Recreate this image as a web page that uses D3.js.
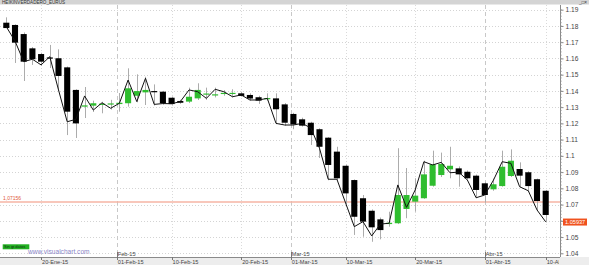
<!DOCTYPE html>
<html>
<head>
<meta charset="utf-8">
<script src="https://cdn.jsdelivr.net/npm/d3@7/dist/d3.min.js"></script>
<style>
  html, body { margin: 0; padding: 0; background: #fff; }
  svg { display: block; font-family: "Liberation Sans", Arial, sans-serif; }
</style>
</head>
<body>
<div id="chart"></div>
<script>
// trading days, 2015
var dates = [
  '01-14','01-15','01-16','01-19','01-20','01-21','01-22','01-23','01-26','01-27',
  '01-28','01-29','01-30','02-02','02-03','02-04','02-05','02-06','02-09','02-10',
  '02-11','02-12','02-13','02-16','02-17','02-18','02-19','02-20','02-23','02-24',
  '02-25','02-26','02-27','03-02','03-03','03-04','03-05','03-06','03-09','03-10',
  '03-11','03-12','03-13','03-16','03-17','03-18','03-19','03-20','03-23','03-24',
  '03-25','03-26','03-27','03-30','03-31','04-01','04-02','04-03','04-06','04-07',
  '04-08','04-09','04-10'
];

// heikin ashi candles
var haOpen = [
  1.1820,1.1806,1.1750,1.1662,1.1627,1.1606,1.1601,1.1545,1.1406,1.1303,
  1.1309,1.1318,1.1320,1.1319,1.1324,1.1370,1.1391,1.1399,1.1395,1.1358,
  1.1338,1.1334,1.1354,1.1378,1.1373,1.1382,1.1382,1.1385,1.1375,1.1361,
  1.1350,1.1354,1.1317,1.1258,1.1225,1.1204,1.1164,1.1112,1.1026,1.0939,
  1.0851,1.0739,1.0662,1.0609,1.0580,1.0585,1.0673,1.0718,1.0739,1.0816,
  1.0882,1.0917,1.0923,1.0902,1.0878,1.0831,1.0794,1.0814,1.0876,1.0919,
  1.0899,1.0856,1.0785
];
var haHigh = [
  1.1853,1.1810,1.1760,1.1670,1.1635,1.1683,1.1656,1.1550,1.1410,1.1424,
  1.1340,1.1333,1.1345,1.1387,1.1539,1.1502,1.1487,1.1440,1.1400,1.1365,
  1.1345,1.1420,1.1447,1.1420,1.1420,1.1405,1.1410,1.1395,1.1385,1.1370,
  1.1385,1.1385,1.1325,1.1265,1.1235,1.1210,1.1170,1.1115,1.1056,1.0945,
  1.0855,1.0759,1.0670,1.0620,1.0656,1.1047,1.0925,1.0862,1.0970,1.1032,
  1.1020,1.1056,1.0935,1.0910,1.0885,1.0840,1.0860,1.1032,1.1040,1.0960,
  1.0905,1.0860,1.0790
];
var haLow = [
  1.1787,1.1572,1.1461,1.1560,1.1555,1.1541,1.1400,1.1128,1.1110,1.1233,
  1.1270,1.1262,1.1285,1.1272,1.1303,1.1330,1.1313,1.1310,1.1315,1.1310,
  1.1320,1.1325,1.1344,1.1345,1.1360,1.1370,1.1360,1.1365,1.1340,1.1320,
  1.1340,1.1195,1.1185,1.1164,1.1180,1.1067,1.0987,1.0850,1.0850,1.0705,
  1.0513,1.0502,1.0471,1.0486,1.0564,1.0580,1.0616,1.0656,1.0735,1.0810,
  1.0870,1.0862,1.0810,1.0845,1.0740,1.0712,1.0785,1.0810,1.0870,1.0805,
  1.0780,1.0660,1.0590
];
var haClose = [
  1.1787,1.1697,1.1580,1.1595,1.1580,1.1603,1.1492,1.1272,1.1200,1.1311,
  1.1324,1.1321,1.1323,1.1327,1.1416,1.1399,1.1406,1.1395,1.1324,1.1319,
  1.1327,1.1364,1.1406,1.1384,1.1379,1.1388,1.1388,1.1369,1.1353,1.1340,
  1.1356,1.1287,1.1204,1.1194,1.1186,1.1128,1.1056,1.0944,1.0862,1.0769,
  1.0625,1.0595,1.0560,1.0543,1.0588,1.0759,1.0759,1.0755,1.0886,1.0948,
  1.0950,1.0939,1.0886,1.0862,1.0790,1.0759,1.0825,1.0933,1.0970,1.0878,
  1.0814,1.0722,1.0636
];
// real close
var close = [
  1.1795,1.1707,1.1580,1.1595,1.1560,1.1611,1.1406,1.1210,1.1225,1.1369,
  1.1282,1.1327,1.1293,1.1324,1.1467,1.1334,1.1478,1.1317,1.1322,1.1321,
  1.1334,1.1406,1.1395,1.1354,1.1410,1.1395,1.1364,1.1375,1.1344,1.1344,
  1.1354,1.1200,1.1190,1.1190,1.1200,1.1172,1.1047,1.0856,1.0856,1.0710,
  1.0564,1.0595,1.0507,1.0580,1.0585,1.0821,1.0683,1.0790,1.0964,1.0944,
  1.0960,1.0896,1.0900,1.0851,1.0742,1.0759,1.0851,1.0964,1.0954,1.0810,
  1.0785,1.0667,1.05937
];

var priceTicks = [1.04,1.05,1.06,1.07,1.08,1.09,1.10,1.11,1.12,1.13,1.14,1.15,1.16,1.17,1.18,1.19];
var dateTicks = [
  ['01-20','20-Ene-15'],['02-01','01-Feb-15'],['02-10','10-Feb-15'],['02-20','20-Feb-15'],
  ['03-01','01-Mar-15'],['03-10','10-Mar-15'],['03-20','20-Mar-15'],['04-01','01-Abr-15'],
  ['04-10','10-Abr-15']
];
var monthTicks = [['02-01','Feb-15'],['03-01','Mar-15'],['04-01','Abr-15']];
var refLevel = 1.07156;

var width = 589, height = 265;
var plotR = 560, plotT = 5, plotB = 257;

var svg = d3.select('#chart').append('svg').attr('width', width).attr('height', height);

var x = d3.scaleBand().domain(dates).range([1.95, 550.05]).paddingInner(0.3).paddingOuter(0.15);
var y = d3.scaleLinear().domain([1.04, 1.19]).range([253.3, 9.7]);
var bw = x.bandwidth();
var cx = function(d) { return x(d) + bw / 2; };

// ticks for days without a candle sit just before the next candle
var tickX = function(d) {
  if (dates.indexOf(d) >= 0) return cx(d);
  var next = dates.find(function(e) { return e > d; });
  return cx(next) - x.step() * 0.3;
};

var last = close[close.length - 1];

svg.append('defs').append('clipPath').attr('id', 'plotclip')
  .append('rect').attr('x', 0).attr('y', 0).attr('width', plotR - 1).attr('height', height);

svg.append('rect').attr('x', 0).attr('y', plotB).attr('width', width).attr('height', height - plotB).attr('fill', '#ededed');

// title bar
svg.append('rect').attr('x', 0).attr('y', 0).attr('width', width).attr('height', 4.5).attr('fill', '#d4d4d4');
svg.append('text').attr('x', 2).attr('y', 4).attr('font-size', 4.6).attr('fill', '#333').text('HEIKINVERDADERO_EURUS');
svg.append('text').attr('x', 587).attr('y', 4).attr('font-size', 4.6).attr('fill', '#333').style('text-anchor', 'end').text('_□×');

// grid
svg.append('g').selectAll('line.hgrid').data(priceTicks).enter().append('line').attr('class', 'hgrid')
  .attr('x1', 0).attr('x2', plotR).attr('y1', function(v) { return Math.round(y(v)) + 0.5; }).attr('y2', function(v) { return Math.round(y(v)) + 0.5; })
  .attr('stroke', '#d4d4d4').attr('stroke-dasharray', '1,2');

var monthKeys = monthTicks.map(function(m) { return m[0]; });
svg.append('g').selectAll('line.vgrid').data(dateTicks).enter().append('line').attr('class', 'vgrid')
  .attr('x1', function(t) { return Math.round(tickX(t[0])) + 0.5; }).attr('x2', function(t) { return Math.round(tickX(t[0])) + 0.5; })
  .attr('y1', plotT).attr('y2', plotB)
  .attr('stroke', function(t) { return monthKeys.indexOf(t[0]) >= 0 ? '#c8c8c8' : '#dadada'; })
  .attr('stroke-dasharray', function(t) { return monthKeys.indexOf(t[0]) >= 0 ? '4,3' : '1,2'; });

// reference level
svg.append('line').attr('x1', 0).attr('x2', plotR).attr('y1', y(refLevel)).attr('y2', y(refLevel))
  .attr('stroke', '#f6b4a4').attr('stroke-width', 1.4);
svg.append('text').attr('x', 3).attr('y', y(refLevel) - 1.8).attr('font-size', 5).attr('fill', '#e0583a').text('1,07156');

// candles
var idx = d3.range(dates.length);
svg.append('g').selectAll('line.wick').data(idx).enter().append('line').attr('class', 'wick')
  .attr('x1', function(i) { return Math.round(cx(dates[i])) + 0.5; }).attr('x2', function(i) { return Math.round(cx(dates[i])) + 0.5; })
  .attr('y1', function(i) { return y(haHigh[i]); }).attr('y2', function(i) { return y(haLow[i]); })
  .attr('stroke', '#acacac');

svg.append('g').selectAll('rect.body').data(idx).enter().append('rect').attr('class', 'body')
  .attr('x', function(i) { return x(dates[i]); }).attr('width', bw)
  .attr('y', function(i) { return y(Math.max(haOpen[i], haClose[i])); })
  .attr('height', function(i) { return Math.max(1.2, Math.abs(y(haOpen[i]) - y(haClose[i]))); })
  .attr('fill', function(i) { return haClose[i] >= haOpen[i] ? '#2fbd2f' : '#000'; });

var line = d3.line().x(function(i) { return cx(dates[i]); }).y(function(i) { return y(close[i]); });
svg.append('path').datum(idx).attr('d', line).attr('fill', 'none').attr('stroke', '#111').attr('stroke-width', 1);

// right axis
svg.append('line').attr('x1', plotR + 0.5).attr('x2', plotR + 0.5).attr('y1', plotT).attr('y2', plotB).attr('stroke', '#8a8a8a');
var yAxis = d3.axisRight(y).tickValues(priceTicks).tickSize(3).tickPadding(2)
  .tickFormat(function(v) { return String(+v.toFixed(2)); });
var ga = svg.append('g').attr('transform', 'translate(' + (plotR + 0.5) + ',0)').call(yAxis);
ga.select('.domain').remove();
ga.selectAll('line').attr('stroke', '#8a8a8a');
ga.selectAll('text').attr('font-size', 6.6).attr('fill', '#444').attr('font-family', '"Liberation Sans", Arial, sans-serif');
// the last-value badge covers the label it sits on
ga.selectAll('.tick').filter(function(v) { return Math.abs(y(v) - y(last)) < 6; }).select('text').remove();
var minor = d3.range(1040, 1191, 2).map(function(v) { return v / 1000; });
svg.append('g').selectAll('line.minor').data(minor).enter().append('line').attr('class', 'minor')
  .attr('x1', plotR + 0.5).attr('x2', plotR + 2).attr('y1', function(v) { return y(v); }).attr('y2', function(v) { return y(v); })
  .attr('stroke', '#9a9a9a').attr('stroke-width', 0.6);

// last value badge
svg.append('rect').attr('x', 563).attr('y', y(last) - 3.3).attr('width', 24).attr('height', 7).attr('fill', '#f0521e');
svg.append('text').attr('x', 565).attr('y', y(last) + 2).attr('font-size', 5.6).attr('fill', '#fff').text(last.toFixed(5));

// bottom axis
svg.append('line').attr('x1', 0).attr('x2', plotR).attr('y1', plotB + 0.5).attr('y2', plotB + 0.5).attr('stroke', '#8a8a8a');
var gx = svg.append('g').attr('clip-path', 'url(#plotclip)');
gx.selectAll('line.xtick').data(dateTicks).enter().append('line').attr('class', 'xtick')
  .attr('x1', function(t) { return Math.round(tickX(t[0])) + 0.5; }).attr('x2', function(t) { return Math.round(tickX(t[0])) + 0.5; })
  .attr('y1', plotB).attr('y2', plotB + 3).attr('stroke', '#777');
gx.selectAll('text.xlab').data(dateTicks).enter().append('text').attr('class', 'xlab')
  .attr('x', function(t) { return tickX(t[0]) + 1; }).attr('y', 263.5)
  .attr('font-size', 5.6).attr('fill', '#444').text(function(t) { return t[1]; });
gx.selectAll('line.mtick').data(monthTicks).enter().append('line').attr('class', 'mtick')
  .attr('x1', function(t) { return Math.round(tickX(t[0])) + 0.5; }).attr('x2', function(t) { return Math.round(tickX(t[0])) + 0.5; })
  .attr('y1', plotB - 5).attr('y2', plotB).attr('stroke', '#777');
gx.selectAll('text.mlab').data(monthTicks).enter().append('text').attr('class', 'mlab')
  .attr('x', function(t) { return tickX(t[0]) + 1; }).attr('y', plotB - 1.5)
  .attr('font-size', 5.6).attr('fill', '#444').text(function(t) { return t[1]; });

// footer marks
svg.append('rect').attr('x', 2.7).attr('y', 244.3).attr('width', 26.6).attr('height', 5).attr('fill', '#22b022');
svg.append('text').attr('x', 4).attr('y', 248.4).attr('font-size', 4).attr('fill', '#103010').text('Sin gr.datos');
svg.append('text').attr('x', 28).attr('y', 254).attr('font-size', 6.6).attr('fill', '#8a86c8').text('www.visualchart.com');
</script>
</body>
</html>
